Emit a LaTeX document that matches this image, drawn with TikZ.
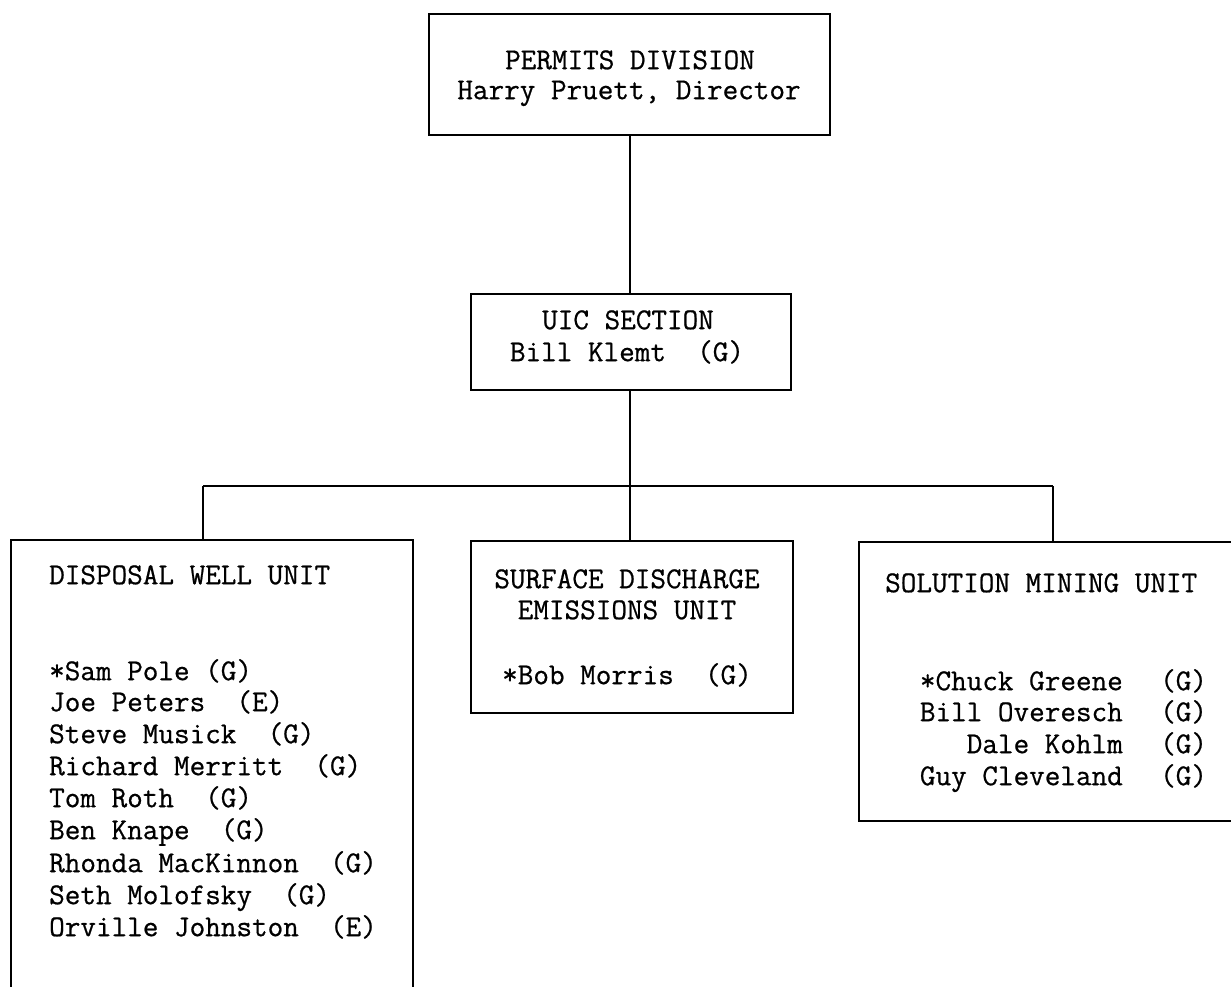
\documentclass[tikz,border=0pt]{standalone}
\usepackage{fontspec}
\newfontfamily\tw{Latin Modern Mono}[FakeBold=0.7]
\begin{document}
\begin{tikzpicture}[x=1pt,y=-1pt,
  box/.style={draw, line width=1.7pt, inner sep=0pt, anchor=north west},
  lbl/.style={inner sep=0pt, text height=0.6em, text depth=0pt, font=\tw\fontsize{30.3}{36}\selectfont},
  cl/.style={lbl, anchor=mid},
  ll/.style={lbl, anchor=mid west},
  rl/.style={lbl, anchor=mid east},
  wire/.style={line width=1.3pt}]
\useasboundingbox (0,0) rectangle (1231,987);
% boxes
\node[box, minimum width=401pt, minimum height=121pt] (pd) at (428,13) {};
\node[box, minimum width=320pt, minimum height=96pt] (uic) at (470,293) {};
\node[box, minimum width=402pt, minimum height=460pt] (dw) at (10,539) {};
\node[box, minimum width=322pt, minimum height=172pt] (sd) at (470,540) {};
\node[box, minimum width=390pt, minimum height=279pt] (sm) at (858,541) {};
% texts
\node[cl] (pd1) at (630,67) {PERMITS DIVISION};
\node[cl] (pd2) at (629,97) {Harry Pruett, Director};
\node[cl] (u1) at (628,327) {UIC SECTION};
\node[cl] (u2) at (627,359) {Bill Klemt~~(G)};
\node[ll] (d0) at (49,582) {DISPOSAL WELL UNIT};
\node[ll] (d1) at (49,678) {*Sam Pole (G)};
\node[ll] (d2) at (49,709) {Joe Peters~~(E)};
\node[ll] (d3) at (49,741) {Steve Musick~~(G)};
\node[ll] (d4) at (49,773) {Richard Merritt~~(G)};
\node[ll] (d5) at (49,805) {Tom Roth~~(G)};
\node[ll] (d6) at (49,837) {Ben Knape~~(G)};
\node[ll] (d7) at (49,870) {Rhonda MacKinnon~~(G)};
\node[ll] (d8) at (49,902) {Seth Molofsky~~(G)};
\node[ll] (d9) at (49,934) {Orville Johnston~~(E)};
\node[cl] (s1) at (627,586) {SURFACE DISCHARGE};
\node[cl] (s2) at (627,617) {EMISSIONS UNIT};
\node[cl] (s3) at (627,682) {*Bob Morris~~(G)};
\node[ll] (m0) at (885,590) {SOLUTION MINING UNIT};
\node[rl] (m1) at (1123,688) {*Chuck Greene};
\node[rl] (m2) at (1123,719) {Bill Overesch};
\node[rl] (m3) at (1123,751) {Dale Kohlm};
\node[rl] (m4) at (1123,783) {Guy Cleveland};
\node[ll] (g1) at (1160,688) {(G)};
\node[ll] (g2) at (1160,719) {(G)};
\node[ll] (g3) at (1160,751) {(G)};
\node[ll] (g4) at (1160,783) {(G)};
% connectors
\coordinate (jl) at (203,486);
\coordinate (jm) at (630,486);
\coordinate (jr) at (1053,486);
\draw[wire] (pd.south -| jm) -- (uic.north -| jm);
\draw[wire] (uic.south -| jm) -- (jm);
\draw[wire] (jl) -- (jr);
\draw[wire] (jl) -- (jl |- dw.north);
\draw[wire] (jm) -- (jm |- sd.north);
\draw[wire] (jr) -- (jr |- sm.north);
\end{tikzpicture}
\end{document}
